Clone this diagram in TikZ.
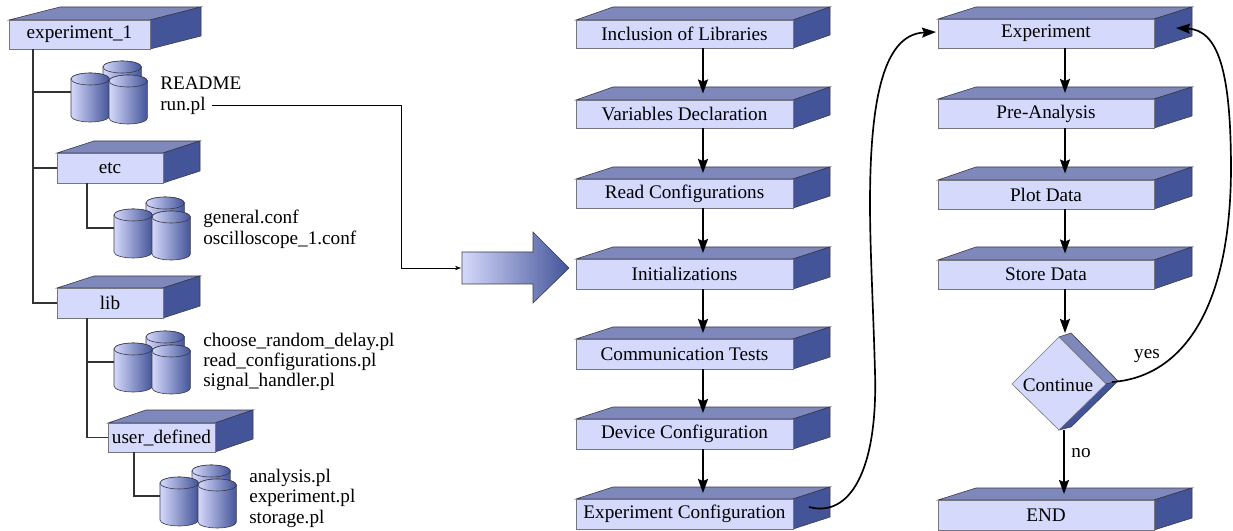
\documentclass[tikz,border=0pt]{standalone}
\usepackage{fontspec}
\setmainfont{Liberation Serif}
\usetikzlibrary{arrows.meta,calc}
\definecolor{facefront}{HTML}{D5D9FB}
\definecolor{facetop}{HTML}{7F88BB}
\definecolor{faceside}{HTML}{435499}
\definecolor{edgeline}{HTML}{3A3A4A}
\newcommand{\labelfont}{\fontsize{14.4}{16}\selectfont}
\tikzset{
  frontface/.style={draw=edgeline!70,line width=.45pt,fill=facefront,inner sep=0pt,font=\labelfont},
  topface/.style={draw=edgeline,line width=.45pt,fill=facetop},
  sideface/.style={draw=edgeline,line width=.45pt,fill=faceside},
  filelabel/.style={anchor=base west,inner sep=0pt,font=\labelfont},
  flowarrow/.style={black,line width=1.25pt,-{Stealth[length=10.5pt,width=7.5pt,inset=1.5pt]}},
  treeline/.style={draw=black!80,line width=.8pt},
  thinlink/.style={black,line width=.45pt,-{Stealth[length=4.5pt,width=3.2pt]}},
  branchlabel/.style={inner sep=0pt,font=\labelfont},
}
% name, x0, y0, x1, y1, dx, dy, text
\newcommand{\cubebox}[8]{%
  \pgfmathsetlengthmacro{\cw}{(#4-#2)*0.75pt}%
  \pgfmathsetlengthmacro{\ch}{(#5-#3)*0.75pt}%
  \path[topface] (#2,#3) -- ++(#6,#7) -- (#4+#6,#3+#7) -- (#4,#3) -- cycle;
  \path[sideface] (#4,#3) -- (#4+#6,#3+#7) -- (#4+#6,#5+#7) -- (#4,#5) -- cycle;
  \node[frontface,minimum width=\cw,minimum height=\ch] (#1) at ({(#2+#4)/2},{(#3+#5)/2}) {\raisebox{-.75pt}{#8}};
  \coordinate (#1-in) at ({(#2+#4+#6)/2},{#3+#7/2});
  \coordinate (#1-out) at ({(#2+#4+#6)/2},#5);
}
% single can at left x, top y
\newcommand{\can}[2]{%
  \shade[left color=facefront,right color=faceside,draw=edgeline,line width=.45pt]
    (#1,#2+6) -- (#1,#2+43) arc[start angle=180,end angle=0,x radius=19.2,y radius=6]
    -- (#1+38.4,#2+6) arc[start angle=0,end angle=-180,x radius=19.2,y radius=6] -- cycle;
  \shade[left color=facefront,right color=faceside,draw=edgeline,line width=.45pt]
    (#1+19.2,#2+6) ellipse[x radius=19.2,y radius=6];
}
% name, left x, top y of the group
\newcommand{\cans}[3]{%
  \can{#2+32}{#3}
  \can{#2}{#3+12}
  \can{#2+38}{#3+14}
  \coordinate (#1) at (#2,#3+31);
}
\begin{document}
\begin{tikzpicture}[x=.75pt,y=-.75pt]
\useasboundingbox (0,0) rectangle (1233,531);
% tree
\cubebox{exp}{9}{20}{150}{49}{51}{-13}{experiment\_1}
\cubebox{etc}{57}{153}{163}{183}{37}{-12}{etc}
\cubebox{lib}{57}{288}{163}{318}{37}{-12}{lib}
\cubebox{usr}{108}{423}{215}{452}{38}{-13}{user\_defined}
\cans{canA}{71}{61}
\cans{canB}{114}{197}
\cans{canC}{114}{331}
\cans{canD}{160}{465}
\node[filelabel] (readme) at (160,89.5) {README};
\node[filelabel] (runpl) at (160,110.5) {run.pl};
\node[filelabel] (genconf) at (203,223.5) {general.conf};
\node[filelabel] (oscconf) at (203,244.5) {oscilloscope\_1.conf};
\node[filelabel] (choose) at (203,346) {choose\_random\_delay.pl};
\node[filelabel] (readcfg) at (203,366) {read\_configurations.pl};
\node[filelabel] (sighand) at (203,387) {signal\_handler.pl};
\node[filelabel] (analysis) at (249,482) {analysis.pl};
\node[filelabel] (experiment) at (249,502) {experiment.pl};
\node[filelabel] (storage) at (249,523) {storage.pl};
\coordinate (trunkA) at (33,49);
\coordinate (trunkB) at (87,183);
\coordinate (trunkC) at (87,318);
\coordinate (trunkD) at (134,452);
\draw[treeline] (trunkA) |- (lib.west);
\draw[treeline] (trunkA |- canA) -- (canA);
\draw[treeline] (trunkA |- etc.west) -- (etc.west);
\draw[treeline] (trunkB) |- (canB);
\draw[treeline] (trunkC) |- (usr.west);
\draw[treeline] (trunkC |- canC) -- (canC);
\draw[treeline] (trunkD) |- (canD);
% big arrow
\shade[draw=edgeline,line width=.45pt,left color=facefront,right color=faceside]
  (462,252) -- (533,252) -- (533,232) -- (569,268) -- (533,303) -- (533,284) -- (462,284) -- cycle;
\coordinate (bigarrow) at (461,268);
\coordinate (runout) at ($(runpl.east)+(6,-1)$);
\draw[thinlink] (runout) -- (401,0 |- runout) |- (bigarrow);
% left flow
\cubebox{f1}{576}{20}{793}{48}{37}{-13}{Inclusion of Libraries}
\cubebox{f2}{576}{100}{793}{128}{37}{-13}{Variables Declaration}
\cubebox{f3}{576}{179}{793}{208}{37}{-12}{Read Configurations}
\cubebox{f4}{576}{259}{793}{289}{37}{-12}{Initializations}
\cubebox{f5}{576}{339}{793}{369}{37}{-12}{Communication Tests}
\cubebox{f6}{576}{419}{793}{449}{37}{-12}{Device Configuration}
\cubebox{f7}{576}{499}{793}{529}{37}{-12}{Experiment Configuration}
% right flow
\cubebox{g1}{938}{19}{1154}{48}{38}{-12}{Experiment}
\cubebox{g2}{938}{99}{1154}{128}{38}{-12}{Pre-Analysis}
\cubebox{g3}{938}{180}{1154}{209}{38}{-13}{Plot Data}
\cubebox{g4}{938}{260}{1154}{289}{38}{-13}{Store Data}
\cubebox{g5}{938}{500}{1154}{530}{38}{-12}{END}
% decision
\path[topface] (1059,337) -- (1071,333) -- (1118,381) -- (1106,384) -- cycle;
\path[sideface] (1106,384) -- (1118,381) -- (1071,427) -- (1059,430) -- cycle;
\path[frontface,draw=edgeline!70] (1059,337) -- (1106,384) -- (1059,430) -- (1012,384) -- cycle;
\node[inner sep=0pt,font=\labelfont] (cont) at (1058,385) {Continue};
\coordinate (cont-in) at (1065,333);
\coordinate (cont-out) at (1064,430);
\coordinate (cont-right) at (1112,382);
% connectors
\foreach \a/\b in {f1/f2,f2/f3,f3/f4,f4/f5,f5/f6,f6/f7,g1/g2,g2/g3,g3/g4}
  \draw[flowarrow] (\a-out) -- (\b-in);
\draw[flowarrow] (g4-out) -- (cont-in);
\draw[flowarrow] (cont-out) -- (g5-in -| cont-out);
\node[branchlabel] (nolabel) at (1081,453) {no};
\node[branchlabel] (yeslabel) at (1147,356) {yes};
\coordinate (f7-right) at (809,507);
\coordinate (g1-left) at (936,32);
\coordinate (g1-right) at (1176,28);
\draw[flowarrow] (f7-right) .. controls (850,518) and (878,470) .. (875,372) .. controls (873,300) and (870,250) .. (870,203) .. controls (870,85) and (888,34) .. (g1-left);
\draw[flowarrow] (cont-right) .. controls (1172,378) and (1230,325) .. (1231,170) .. controls (1231,70) and (1218,30) .. (g1-right);
\end{tikzpicture}
\end{document}
